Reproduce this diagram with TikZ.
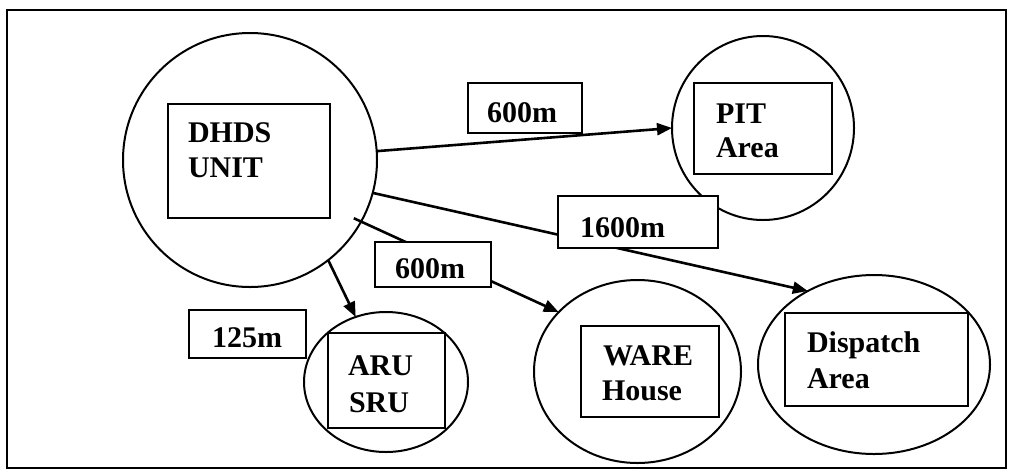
\documentclass[tikz,border=0pt]{standalone}
\usepackage{fontspec}
\setmainfont{Liberation Serif}
\usetikzlibrary{shapes.geometric,arrows.meta}
\begin{document}
\begin{tikzpicture}[x=0.5pt,y=-0.5pt,
  every node/.style={inner sep=0pt,outer sep=0pt},
  ring/.style={draw,ellipse,line width=1pt},
  unitbox/.style={draw,rectangle,line width=1pt},
  tagbox/.style={draw,rectangle,fill=white,line width=1pt},
  txt/.style={anchor=base west,font=\fontsize{15}{18}\selectfont\bfseries},
  link/.style={line width=1.3pt,-{Triangle[length=7.5pt,width=6pt]}}]
\useasboundingbox (0,0) rectangle (1011,472);
\node[draw,rectangle,line width=1.3pt,minimum width=499.5pt,minimum height=229pt] (frame) at (506.5,239) {};
% circles
\node[ring,minimum width=127pt,minimum height=127pt] (dhds) at (250,160) {};
\node[ring,minimum width=91pt,minimum height=92pt] (pit) at (763,128) {};
\node[ring,minimum width=116pt,minimum height=89.5pt] (disp) at (874,364.5) {};
\node[ring,minimum width=103.5pt,minimum height=91.5pt] (ware) at (637.5,371.5) {};
\node[ring,minimum width=82pt,minimum height=70pt] (aru) at (386,382) {};
% inner boxes
\node[unitbox,minimum width=81pt,minimum height=57pt] (dhdsbox) at (249,161) {};
\node[unitbox,minimum width=69pt,minimum height=45.5pt] (pitbox) at (763,128.5) {};
\node[unitbox,minimum width=91.5pt,minimum height=46.5pt] (dispbox) at (876.5,359.5) {};
\node[unitbox,minimum width=69pt,minimum height=45.5pt] (warebox) at (650,371.5) {};
\node[unitbox,minimum width=58.5pt,minimum height=47.5pt] (arubox) at (386.5,380.5) {};
% texts
\node[txt] (t1) at (188,142) {DHDS};
\node[txt] (t2) at (188,177) {UNIT};
\node[txt] (t3) at (716,123) {PIT};
\node[txt] (t4) at (716,157) {Area};
\node[txt] (t5) at (807,352) {Dispatch};
\node[txt] (t6) at (807,388) {Area};
\node[txt] (t7) at (603,365) {WARE};
\node[txt] (t8) at (602,400) {House};
\node[txt] (t9) at (348,375) {ARU};
\node[txt] (t10) at (349,412) {SRU};
% connectors
\draw[link] (dhds.4.5) -- (pit.180);
\draw[link] (dhds.-15.6) -- (disp.132.8);
\draw[link,shorten <=-4pt] (dhds.-29) -- (ware.143.2);
\draw[link] (dhds.-52) -- (aru.115.9);
% distance tags
\node[tagbox,minimum width=57pt,minimum height=25pt] (l1) at (525,108) {};
\node[tagbox,minimum width=80pt,minimum height=26pt] (l2) at (638,222) {};
\node[tagbox,minimum width=58pt,minimum height=22.5pt] (l3) at (433,264.5) {};
\node[tagbox,minimum width=58.5pt,minimum height=24pt] (l4) at (247.5,334) {};
\node[txt] (lt1) at (487,122) {600m};
\node[txt] (lt2) at (580,237) {1600m};
\node[txt] (lt3) at (395,278) {600m};
\node[txt] (lt4) at (212,347) {125m};
\end{tikzpicture}
\end{document}
